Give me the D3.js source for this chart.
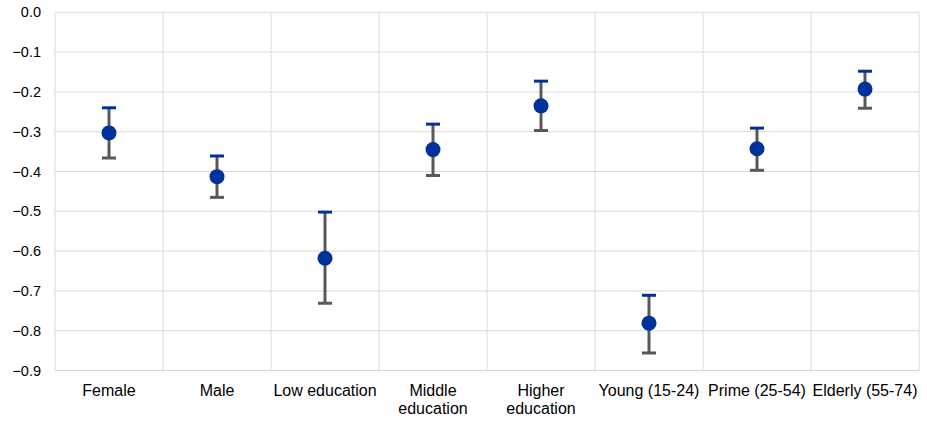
<!DOCTYPE html>
<html><head><meta charset="utf-8">
<script src="https://cdn.jsdelivr.net/npm/d3@7"></script>
<style>body{margin:0;background:#fff;} text{font-family:"Liberation Sans",Arial,sans-serif;}</style>
</head><body>
<svg id="chart" width="927" height="421"></svg>
<script>
const categories = [["Female"],["Male"],["Low education"],["Middle","education"],["Higher","education"],["Young (15-24)"],["Prime (25-54)"],["Elderly (55-74)"]];
const pointValues = [-0.303,-0.413,-0.618,-0.345,-0.235,-0.781,-0.343,-0.193];
const upperValues = [-0.240,-0.361,-0.502,-0.281,-0.173,-0.711,-0.291,-0.148];
const lowerValues = [-0.366,-0.465,-0.731,-0.410,-0.297,-0.856,-0.397,-0.241];
const yTicks = [0,-0.1,-0.2,-0.3,-0.4,-0.5,-0.6,-0.7,-0.8,-0.9];

const svg = d3.select("#chart");
const m = {left:55, right:8, top:12.3, bottom:50.5};
const W = 927, H = 421;
const x = d3.scaleBand().domain(d3.range(categories.length)).range([m.left, W-m.right]).padding(0);
const y = d3.scaleLinear().domain([-0.9,0]).range([H-m.bottom, m.top]);

svg.append("g").selectAll("line").data(yTicks).join("line")
  .attr("x1", m.left).attr("x2", W-m.right)
  .attr("y1", d=>y(d)).attr("y2", d=>y(d))
  .attr("stroke","#d9d9d9").attr("stroke-width",1);
const bounds = d3.range(categories.length+1).map(i => m.left + i*x.bandwidth());
svg.append("g").selectAll("line").data(bounds).join("line")
  .attr("x1", d=>d).attr("x2", d=>d)
  .attr("y1", m.top).attr("y2", H-m.bottom)
  .attr("stroke","#d9d9d9").attr("stroke-width",1);

const yAxis = d3.axisLeft(y).tickValues(yTicks).tickFormat(d3.format(".1f")).tickSize(0).tickPadding(14);
const ga = svg.append("g").attr("transform",`translate(${m.left},0)`).call(yAxis);
ga.select(".domain").remove();
ga.selectAll("text").attr("font-size",14.5).attr("fill","#000").style("font-family","'Liberation Sans',Arial,sans-serif");

const gx = svg.append("g");
categories.forEach((lines,i)=>{
  const t = gx.append("text").attr("x", x(i)+x.bandwidth()/2).attr("y", 395.5)
    .attr("text-anchor","middle").attr("font-size",16).attr("fill","#000");
  lines.forEach((l,j)=> t.append("tspan").attr("x", x(i)+x.bandwidth()/2).attr("dy", j===0?0:18).text(l));
});

const cx = i => x(i)+x.bandwidth()/2;
const g = svg.append("g");
const idx = d3.range(categories.length);
g.selectAll("line.v").data(idx).join("line").attr("class","v")
  .attr("x1",cx).attr("x2",cx).attr("y1",i=>y(upperValues[i])).attr("y2",i=>y(lowerValues[i]))
  .attr("stroke","#595959").attr("stroke-width",3);
g.selectAll("line.lo").data(idx).join("line").attr("class","lo")
  .attr("x1",i=>cx(i)-7).attr("x2",i=>cx(i)+7).attr("y1",i=>y(lowerValues[i])).attr("y2",i=>y(lowerValues[i]))
  .attr("stroke","#595959").attr("stroke-width",3);
g.selectAll("line.up").data(idx).join("line").attr("class","up")
  .attr("x1",i=>cx(i)-7).attr("x2",i=>cx(i)+7).attr("y1",i=>y(upperValues[i])).attr("y2",i=>y(upperValues[i]))
  .attr("stroke","#003299").attr("stroke-width",3);
g.selectAll("circle").data(idx).join("circle")
  .attr("cx",cx).attr("cy",i=>y(pointValues[i])).attr("r",7.5).attr("fill","#003299");
</script>
</body></html>
